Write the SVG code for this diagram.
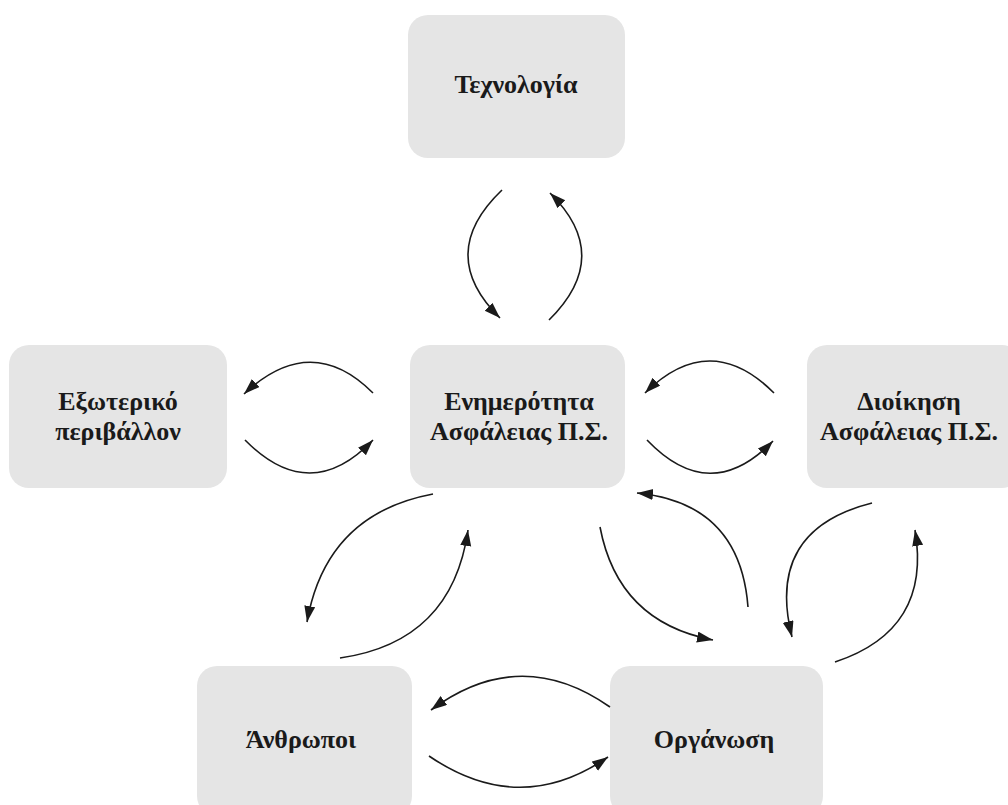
<svg xmlns="http://www.w3.org/2000/svg" width="1008" height="805" viewBox="0 0 1008 805">
<style>
.box{fill:#e5e5e5;stroke:none}
.lbl{font-family:"Liberation Serif","Times New Roman",serif;font-weight:bold;font-size:26px;fill:#1a1a1a;text-anchor:middle}
.arc{fill:none;stroke:#1a1a1a;stroke-width:1.6;marker-end:url(#ah)}
</style>
<defs>
<marker id="ah" markerUnits="userSpaceOnUse" markerWidth="18" markerHeight="12" refX="16" refY="5.5" orient="auto">
<path d="M0,0 L16,5.5 L0,11 z" fill="#1a1a1a"/>
</marker>
</defs>
<rect width="1008" height="805" fill="#ffffff"/>
<g id="tech"><rect class="box" x="408" y="15" width="217" height="143" rx="20"/><text class="lbl" x="516" y="93">Τεχνολογία</text></g>
<g id="external"><rect class="box" x="9" y="345" width="218" height="143" rx="20"/><text class="lbl" x="118" y="410">Εξωτερικό</text><text class="lbl" x="118" y="440">περιβάλλον</text></g>
<g id="awareness"><rect class="box" x="410" y="345" width="215" height="143" rx="20"/><text class="lbl" x="519" y="410">Ενημερότητα</text><text class="lbl" x="519" y="440">Ασφάλειας Π.Σ.</text></g>
<g id="management"><rect class="box" x="807" y="345" width="215" height="143" rx="20"/><text class="lbl" x="909" y="410">Διοίκηση</text><text class="lbl" x="909" y="440">Ασφάλειας Π.Σ.</text></g>
<g id="people"><rect class="box" x="197" y="666" width="215" height="150" rx="20"/><text class="lbl" x="301" y="748">Άνθρωποι</text></g>
<g id="organization"><rect class="box" x="610" y="666" width="213" height="150" rx="20"/><text class="lbl" x="714" y="748">Οργάνωση</text></g>
<g id="connectors">
<path class="arc" d="M502,190 Q435,254 500,318"/>
<path class="arc" d="M549,320 Q614,256 550,193"/>
<path class="arc" d="M373,393 Q311,331 244,394"/>
<path class="arc" d="M245,440 Q310,506 373,440"/>
<path class="arc" d="M774,393 Q710,329 645,393"/>
<path class="arc" d="M647,440 Q710,506 773,441"/>
<path class="arc" d="M433,494 Q326,514 307,622"/>
<path class="arc" d="M340,658 Q452,642 468,530"/>
<path class="arc" d="M600,527 Q618,622 713,640"/>
<path class="arc" d="M748,607 Q740,503 637,493"/>
<path class="arc" d="M872,503 Q765,530 792,637"/>
<path class="arc" d="M835,662 Q932,630 915,530"/>
<path class="arc" d="M610,707 Q520,644 431,710"/>
<path class="arc" d="M429,756 Q520,818 608,757"/>
</g>
</svg>
